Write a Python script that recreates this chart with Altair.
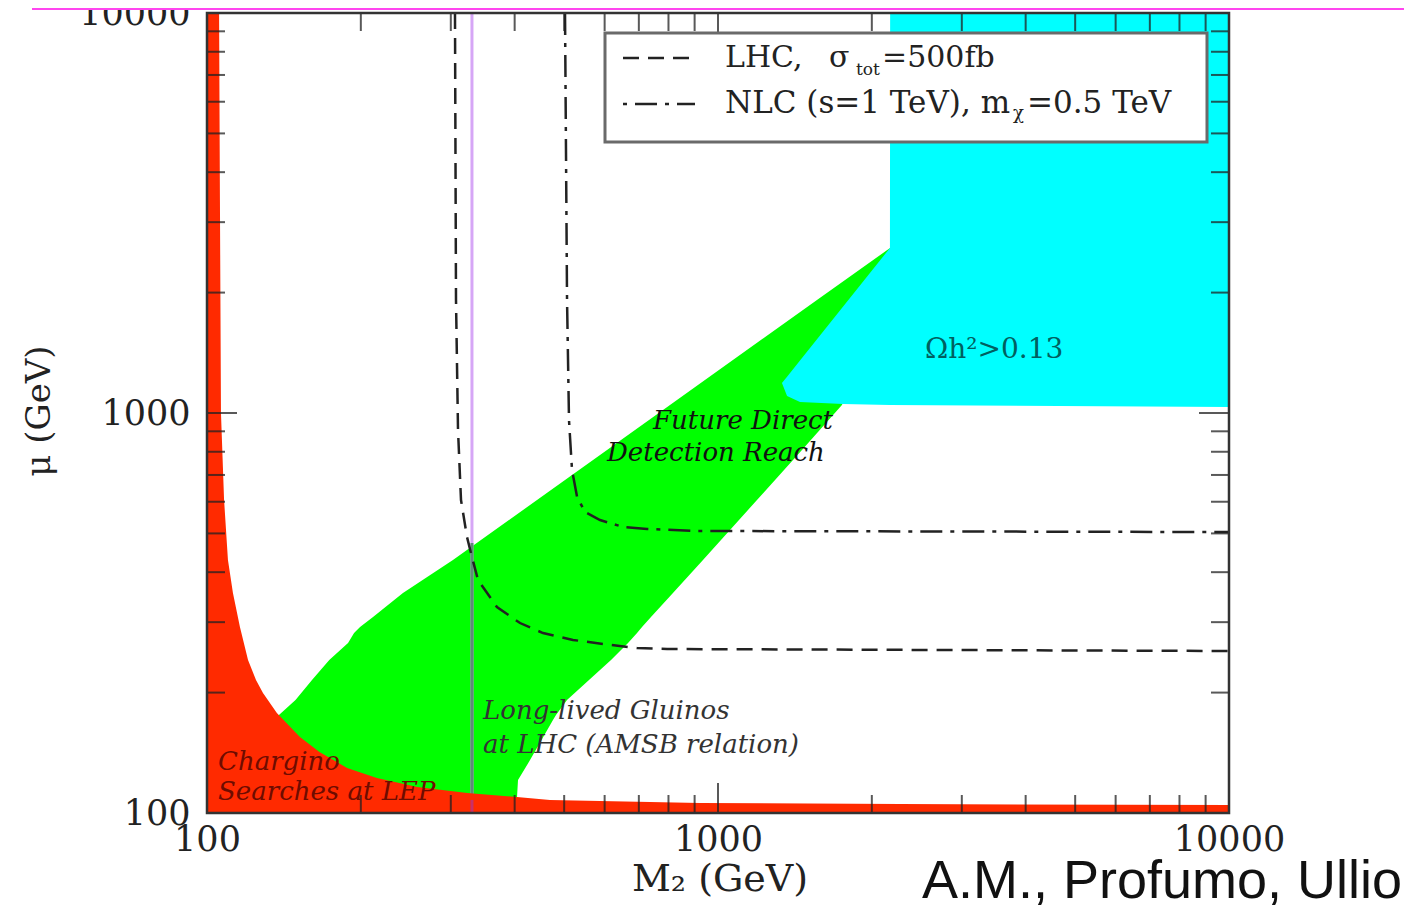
import altair as alt
import pandas as pd

# ---------------- data ----------------
DOMAIN = [100, 10000]
MAJOR_TICKS = [100, 1000, 10000]
MINOR_TICKS = [200, 300, 400, 500, 600, 700, 800, 900,
               2000, 3000, 4000, 5000, 6000, 7000, 8000, 9000]

# Chargino searches at LEP (red): boundary M2 for given mu
RED_MU = [100, 104.7, 105.3, 105.9, 107.8, 109.6, 112.2, 116.1, 122.3, 129.6, 142.1,
          154.9, 177.8, 199.5, 215.0, 241.3, 291.7, 354.8, 429.0, 606.0, 1000.0, 3408.0, 10000.0]
RED_M2 = [10000, 10000, 2271, 922, 469, 404, 323, 258, 215, 188, 166,
          152, 137, 128.7, 124.7, 120.3, 116.0, 112.4, 109.9, 108.0, 106.5, 106.0, 105.6]

# Future direct detection reach (green)
GREEN_MU = [2585, 1917, 1047, 808, 606, 429, 354.8, 309, 291.7, 281.8, 266.1,
            241.3, 215.0, 191.6, 175.8, 170.8, 135.6, 120.9, 109.6, 100]
GREEN_M2_LEFT = [2171, 1562, 805.5, 606.5, 442.4, 302.9, 241.8, 211.3, 199.3, 194.0, 188.8,
                 173.5, 160.5, 149.0, 138.3, 100, 100, 100, 100, 100]
GREEN_M2_RIGHT = [2171, 2171, 1748, 1460, 1192, 934.6, 816.3, 739.4, 710.1, 694.3, 666.7,
                  617.5, 559.2, 506.4, 481.9, 475.4, 428.7, 406.1, 404.3, 404.3]

# Omega h^2 > 0.13 (cyan)
CYAN_M2 = [1334, 1365, 1447, 1756, 2170, 2172, 10000]
CYAN_MU_LOW = [1189, 1103, 1065, 1053, 1047, 1047, 1035]
CYAN_MU_HIGH = [1189, 1232, 1353, 1844, 2585, 10000, 10000]

# LHC, sigma_tot = 500 fb (dashed)
LHC_M2 = [305.7, 307.1, 309.9, 314.1, 322.7, 330.0, 339.1, 369.3, 409.8, 454.5,
          520.2, 595.7, 694.2, 794.9, 10000]
LHC_MU = [10000, 1917, 907, 606, 489.8, 436.5, 382.4, 327.3, 298.5, 281.8,
          270.8, 264.6, 258.5, 257.0, 254.1]

# NLC (s = 1 TeV), m_chi = 0.5 TeV (dash-dot)
NLC_M2 = [501.9, 506.5, 511.0, 518.0, 530.0, 549.4, 587.6, 651.8, 726.3, 909.9, 10000]
NLC_MU = [10000, 1917, 960, 720, 616.6, 565.5, 540.0, 518.8, 512.9, 507.0, 504.0]

# Long-lived gluinos at LHC (vertical line)
GLUINO_M2 = 330.0
GLUINO_MU_GREEN = [107.8, 473.0]

# ---------------- layout ----------------
W, H = 1022, 800
SERIF = "DejaVu Serif"

xs = alt.Scale(type="log", domain=DOMAIN, nice=False)
ys = alt.Scale(type="log", domain=DOMAIN, nice=False)
X_AX = alt.Axis(values=MAJOR_TICKS, format="d", labelFont=SERIF, labelFontSize=35,
                labelColor="#222", labelPadding=9, ticks=False, domain=False, grid=False,
                title=None, labelFlush=False, labelOverlap=False)
Y_AX = alt.Axis(values=MAJOR_TICKS, format="d", labelFont=SERIF, labelFontSize=35,
                labelColor="#222", labelPadding=17, ticks=False, domain=False, grid=False,
                title=None, labelFlush=False, labelOverlap=False)


def X(f):
    return alt.X(f, type="quantitative", scale=xs, axis=X_AX)


def Y(f):
    return alt.Y(f, type="quantitative", scale=ys, axis=Y_AX)


one = pd.DataFrame({"k": [0]})

green_df = pd.DataFrame({"mu": GREEN_MU, "l": GREEN_M2_LEFT, "r": GREEN_M2_RIGHT})
green = alt.Chart(green_df).mark_area(orient="horizontal", color="#00ff00", clip=True).encode(
    y=Y("mu"), x=X("r"), x2="l")

cyan_df = pd.DataFrame({"m2": CYAN_M2, "lo": CYAN_MU_LOW, "hi": CYAN_MU_HIGH})
cyan = alt.Chart(cyan_df).mark_area(color="#00ffff", clip=True).encode(
    x=X("m2"), y=Y("hi"), y2="lo")

glu_df = pd.DataFrame({"m2": [GLUINO_M2], "lo": [DOMAIN[0]], "hi": [DOMAIN[1]]})
gluino = alt.Chart(glu_df).mark_rule(color="#d6a6f6", strokeWidth=3).encode(
    x=X("m2"), y=Y("lo"), y2="hi")
glu_g_df = pd.DataFrame({"m2": [GLUINO_M2], "lo": [GLUINO_MU_GREEN[0]], "hi": [GLUINO_MU_GREEN[1]]})
gluino_g = alt.Chart(glu_g_df).mark_rule(color="#5f8a78", strokeWidth=3).encode(
    x=X("m2"), y=Y("lo"), y2="hi")

red_df = pd.DataFrame({"mu": RED_MU, "m2": RED_M2, "base": [DOMAIN[0]] * len(RED_MU)})
red = alt.Chart(red_df).mark_area(orient="horizontal", color="#ff2a00", clip=True).encode(
    y=Y("mu"), x=X("m2"), x2="base")

glu_r_df = pd.DataFrame({"m2": [GLUINO_M2], "lo": [DOMAIN[0]], "hi": [GLUINO_MU_GREEN[0]]})
gluino_r = alt.Chart(glu_r_df).mark_rule(color="#c8306a", strokeWidth=3).encode(
    x=X("m2"), y=Y("lo"), y2="hi")

lhc_df = pd.DataFrame({"m2": LHC_M2, "mu": LHC_MU, "i": list(range(len(LHC_M2)))})
lhc = alt.Chart(lhc_df).mark_line(color="#222", strokeWidth=2.5, strokeDash=[16, 9], clip=True).encode(
    x=X("m2"), y=Y("mu"), order="i:Q")

nlc_df = pd.DataFrame({"m2": NLC_M2, "mu": NLC_MU, "i": list(range(len(NLC_M2)))})
nlc = alt.Chart(nlc_df).mark_line(color="#222", strokeWidth=2.5, strokeDash=[22, 8, 4, 8], clip=True).encode(
    x=X("m2"), y=Y("mu"), order="i:Q")

# ticks on all four sides, pointing inward
tick_layers = []
for vals, L in ((MAJOR_TICKS, 30), (MINOR_TICKS, 18)):
    tdf = pd.DataFrame({"v": vals})
    base = alt.Chart(tdf).mark_rule(color="#222", strokeWidth=2, opacity=0.75)
    tick_layers += [
        base.encode(x=X("v"), y=alt.value(H), y2=alt.value(H - L)),
        base.encode(x=X("v"), y=alt.value(0), y2=alt.value(L)),
        base.encode(y=Y("v"), x=alt.value(0), x2=alt.value(L)),
        base.encode(y=Y("v"), x=alt.value(W), x2=alt.value(W - L)),
    ]

frame = alt.Chart(one).mark_rect(fill="transparent", stroke="#333", strokeWidth=2.5).encode(
    x=alt.value(0), x2=alt.value(W), y=alt.value(0), y2=alt.value(H))

# legend box
legend_box = alt.Chart(one).mark_rect(fill="white", stroke="#6a6a6a", strokeWidth=3).encode(
    x=alt.value(398), x2=alt.value(1000), y=alt.value(20), y2=alt.value(129))
leg_lhc = alt.Chart(one).mark_rule(color="#222", strokeWidth=2.5, strokeDash=[16, 9]).encode(
    x=alt.value(416), x2=alt.value(488), y=alt.value(45))
leg_nlc = alt.Chart(one).mark_rule(color="#222", strokeWidth=2.5, strokeDash=[4, 8, 22, 8]).encode(
    x=alt.value(416), x2=alt.value(488), y=alt.value(91))

pink = alt.Chart(one).mark_rect(color="#ff45ef", clip=False).encode(
    x=alt.value(-175), x2=alt.value(1200), y=alt.value(-13), y2=alt.value(-3))


def txt(text, x, y, size, font=SERIF, style="normal", color="#222", align="left",
        angle=0, baseline="middle"):
    kw = dict(align=align, baseline=baseline, fontSize=size, font=font,
              fontStyle=style, color=color)
    if angle:
        kw["angle"] = angle
    return alt.Chart(pd.DataFrame({"t": [text]})).mark_text(**kw).encode(
        x=alt.value(x), y=alt.value(y), text="t:N")


texts = [
    txt("μ (GeV)", -167, 398, 34, align="center", angle=270),
    txt("M₂ (GeV)", 513, 867, 38, align="center"),
    txt("A.M., Profumo, Ullio", 715, 885, 54, font="Liberation Sans", color="#111",
        baseline="alphabetic"),
    txt("Chargino", 11, 749, 26, style="italic", color="#6e0c00"),
    txt("Searches at LEP", 11, 779, 26, style="italic", color="#6e0c00"),
    txt("Long-lived Gluinos", 276, 698, 26, style="italic", color="#333"),
    txt("at LHC (AMSB relation)", 276, 732, 26, style="italic", color="#333"),
    txt("Future Direct", 446, 408, 26, style="italic", color="#111"),
    txt("Detection Reach", 400, 440, 26, style="italic", color="#111"),
    txt("Ωh²>0.13", 718, 337, 28, color="#006060"),
    txt("LHC,", 518, 45, 30),
    txt("σ", 622, 45, 30),
    txt("tot", 649, 57, 17),
    txt("=500fb", 675, 45, 30),
    txt("NLC (s=1 TeV), m", 518, 91, 31),
    txt("χ", 806, 101, 18),
    txt("=0.5 TeV", 820, 91, 31),
]

chart = alt.layer(
    green, cyan, gluino, gluino_g, red, gluino_r, lhc, nlc,
    *tick_layers, frame, legend_box, leg_lhc, leg_nlc, pink, *texts
).properties(
    width=W, height=H,
    padding={"left": 199, "top": 5, "right": 175, "bottom": 95},
    autosize=alt.AutoSizeParams(type="none"),
).configure_view(stroke="transparent")

chart.save("out.html", embed_options={"renderer": "svg", "actions": False})
